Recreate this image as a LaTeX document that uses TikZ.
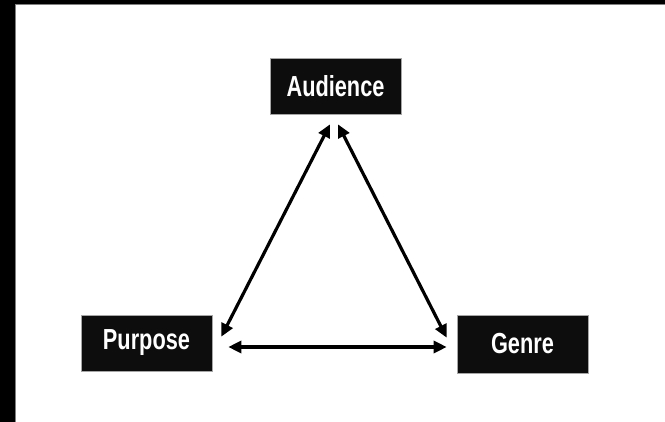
\documentclass[tikz,border=0pt]{standalone}
\usepackage{fontspec}
\setmainfont{Liberation Sans}[FakeStretch=0.75]
\usetikzlibrary{arrows.meta,calc}
\definecolor{boxfill}{HTML}{0D0D0D}
\tikzset{
  termbox/.style={fill=boxfill, draw=gray!70, line width=0.6pt, minimum width=131pt, minimum height=56pt, inner sep=0pt,
    text=white, font=\bfseries\fontsize{29}{32}\selectfont},
  arr/.style={line width=3.2pt, {Triangle[length=13pt,width=12pt]}-{Triangle[length=13pt,width=12pt]}}
}
\begin{document}
\begin{tikzpicture}[x=1pt,y=-1pt]
\useasboundingbox (0,0) rectangle (665,422);
\fill[white] (0,0) rectangle (665,422);
\fill[black] (0,0) rectangle (15,422);
\fill[black] (0,0) rectangle (665,4);
\draw[gray, line width=1pt] (15.5,422) -- (15.5,4.5) -- (665,4.5);
\node[termbox] (A) at (335.5,86) {Audience};
\node[termbox] (P) at (146.5,343) {Purpose};
\node[termbox, minimum height=58pt] (G) at (522.5,344) {Genre};
\draw[arr] ([xshift=-5.5pt,yshift=-10pt]A.south) -- ([xshift=9pt,yshift=-22pt]P.north east);
\draw[arr] ([xshift=2.5pt,yshift=-10pt]A.south) -- ([xshift=-10pt,yshift=-23pt]G.north west);
\draw[arr] ([xshift=16pt,yshift=-4pt]P.east) -- ([xshift=-10pt,yshift=-3pt]G.west);
\end{tikzpicture}
\end{document}
